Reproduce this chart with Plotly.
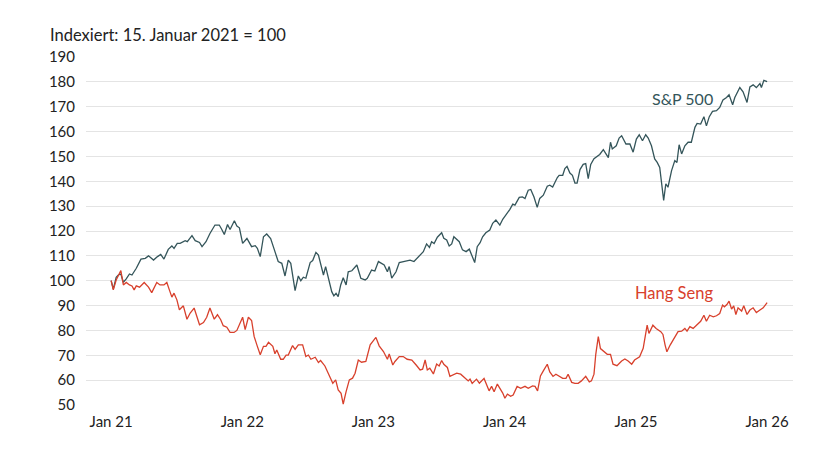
import pandas as pd
import plotly.graph_objects as go

START = "2021-01-15"

# S&P 500: days after 15 Jan 2021, indexed value
sp_day = [0, 6, 14, 20, 27, 34, 42, 51, 58, 70, 83, 95, 104, 118, 129, 138, 147, 159, 169, 175,
          184, 192, 206, 212, 225, 234, 246, 253, 264, 275, 289, 301, 308, 315, 324, 331, 343, 350, 357, 366,
          378, 391, 401, 407, 415, 424, 433, 444, 453, 465, 475, 484, 493, 500, 512, 521, 528, 535, 542, 554,
          561, 570, 577, 591, 597, 605, 614, 620, 626, 632, 639, 646, 654, 660, 670, 684, 695, 707, 713, 725,
          734, 744, 753, 760, 769, 774, 781, 793, 802, 813, 824, 832, 843, 855, 869, 878, 886, 892, 899, 908,
          920, 926, 934, 941, 948, 954, 962, 969, 978, 988, 997, 1004, 1012, 1019, 1027, 1034, 1043, 1054, 1062, 1071,
          1082, 1090, 1101, 1110, 1118, 1124, 1136, 1145, 1152, 1161, 1168, 1177, 1186, 1193, 1203, 1214, 1221, 1229, 1242, 1247,
          1257, 1263, 1269, 1277, 1284, 1291, 1297, 1305, 1314, 1321, 1328, 1335, 1344, 1353, 1360, 1370, 1376, 1384, 1390, 1395,
          1406, 1414, 1421, 1433, 1444, 1453, 1462, 1470, 1479, 1488, 1495, 1504, 1513, 1520, 1527, 1532, 1538, 1544, 1550, 1560,
          1569, 1575, 1581, 1588, 1597, 1606, 1615, 1625, 1631, 1641, 1650, 1657, 1665, 1674, 1685, 1694, 1703, 1713, 1720, 1730,
          1736, 1750, 1759, 1770, 1778, 1787, 1796, 1806, 1810, 1817, 1826]
sp_val = [100, 96.6, 101.4, 102.3, 102.7, 99.4, 100.7, 102.7, 102.3, 105, 108.7, 109, 110, 108.3, 109.7, 110.6, 108.7, 112.6, 114, 113,
          115, 115, 116.1, 115.7, 118.1, 116.1, 115.4, 113.7, 115.7, 119, 122.4, 122.4, 120.6, 118.6, 122.6, 120.6, 124.1, 122, 121.3, 115,
          117, 113.7, 114.1, 113, 109.7, 117.7, 118.8, 117, 113, 107.7, 107, 101.9, 108.3, 107, 96, 101.9, 100, 101.4, 101, 107.3,
          108.1, 111.4, 110.3, 102.3, 105.7, 101, 95.6, 93.9, 94.9, 93.6, 98.3, 101.2, 98.3, 103.6, 104, 106.3, 101, 100.3, 101, 104.3,
          103.9, 107.7, 107, 106.3, 103.6, 105.7, 101, 103.6, 107.3, 107.7, 108.1, 108.3, 107.7, 109.7, 111.7, 114.8, 113.4, 115.7, 115, 117.5,
          119.3, 117.1, 116.4, 114, 114.8, 117.7, 116.4, 115.7, 112.4, 111.7, 112.7, 110.4, 107.3, 113.7, 115.3, 117.7, 119.3, 120.4, 123.1, 124.4,
          122.4, 124.7, 126.8, 128.7, 130.8, 130.4, 133.5, 133.7, 133.1, 136.4, 136.7, 133.7, 129.5, 133.1, 134.4, 138, 138.4, 137.7, 141.5, 142.4,
          142.4, 145.1, 146, 143.3, 142.4, 139.3, 139.3, 144.7, 146.8, 147.1, 141.1, 146.8, 149.1, 150, 150.8, 152.7, 151.3, 149.5, 155.7, 153,
          154.3, 157.4, 158.3, 155, 155, 151.7, 157, 158.7, 156.3, 158.7, 157.4, 154.3, 149, 147.6, 145.6, 140.3, 132.3, 139, 137.6, 144.3,
          148.3, 147.6, 154.7, 151, 154.3, 155.7, 155.7, 161.7, 163.3, 163, 166, 162.3, 166, 168.1, 168.4, 169.7, 172.7, 173.7, 174.8, 170.8,
          173.7, 177.7, 176, 171.7, 178, 178.8, 177.7, 179.3, 177.7, 180.6, 180.1]

# Hang Seng: days after 15 Jan 2021, indexed value
hs_day = [0, 6, 14, 20, 27, 34, 42, 51, 58, 64, 70, 79, 92, 104, 113, 127, 136, 147, 155, 162,
          169, 175, 183, 190, 201, 211, 220, 231, 246, 257, 266, 275, 287, 296, 305, 312, 322, 331, 342, 350,
          359, 366, 373, 382, 391, 398, 407, 415, 424, 431, 438, 450, 456, 461, 472, 479, 487, 493, 505, 512,
          521, 533, 542, 549, 556, 568, 577, 583, 595, 605, 617, 625, 632, 640, 646, 654, 663, 672, 679, 688,
          697, 709, 721, 730, 737, 746, 758, 769, 774, 784, 790, 802, 813, 824, 837, 849, 860, 867, 874, 880,
          887, 897, 906, 913, 920, 926, 936, 943, 952, 962, 973, 985, 994, 999, 1005, 1017, 1025, 1038, 1045, 1052,
          1059, 1066, 1075, 1082, 1090, 1096, 1103, 1112, 1119, 1130, 1140, 1152, 1161, 1173, 1180, 1187, 1195, 1203, 1214, 1221,
          1230, 1238, 1247, 1257, 1266, 1272, 1282, 1291, 1300, 1309, 1321, 1331, 1337, 1344, 1349, 1356, 1362, 1372, 1381, 1390,
          1397, 1408, 1421, 1430, 1439, 1449, 1457, 1471, 1481, 1492, 1497, 1508, 1517, 1530, 1536, 1542, 1547, 1556, 1567, 1578,
          1588, 1597, 1603, 1611, 1620, 1631, 1641, 1650, 1657, 1666, 1676, 1685, 1694, 1702, 1707, 1714, 1720, 1727, 1733, 1739,
          1745, 1755, 1761, 1770, 1778, 1787, 1796, 1806, 1815, 1826]
hs_val = [100, 96.3, 100.3, 102.3, 104.1, 98.3, 99.3, 98.3, 97.9, 96.3, 97.9, 97.4, 99.3, 97.4, 95.2, 99.3, 98.3, 98.3, 99.3, 96.3,
          93.4, 95, 92.3, 88.3, 89.9, 84.5, 87, 89, 82.3, 83.2, 85.3, 89, 84.5, 86.3, 84.3, 81.9, 81.3, 79.2, 79.2, 80,
          83.2, 85.3, 80.3, 85.3, 84, 77.6, 73.6, 70.2, 73.6, 73.6, 75.2, 73.6, 70.6, 72.1, 68.4, 68.4, 70.1, 70.1, 73.9, 72.4,
          74.2, 74.2, 69.5, 70.1, 68.4, 69.2, 67.1, 67.9, 65.7, 62.5, 58.7, 60.1, 56.1, 54.7, 50.4, 55.4, 60.1, 60.8, 62.8, 68.1,
          67.2, 67.5, 74.2, 75.9, 77.2, 73.8, 71.5, 68.4, 70.5, 66.1, 67.5, 69.5, 69.5, 68.4, 68.1, 66.1, 64.1, 64.4, 68.1, 64.1,
          64.8, 62.5, 66.5, 65.7, 67.9, 66.4, 65.1, 61.5, 62, 62.8, 62.4, 60.7, 59.7, 60.4, 58.7, 60.4, 58.8, 60.7, 58, 55.7,
          57.5, 55.3, 58.4, 56.7, 54.8, 52.7, 54.4, 53.5, 54, 57.5, 56.7, 57.5, 56.7, 57.7, 57.5, 55.7, 61.7, 63.7, 66.4, 63.3,
          61.5, 62.4, 61.5, 60.7, 60.7, 62.4, 59.1, 58.7, 58.7, 59.7, 61.5, 59.3, 59.7, 62.4, 70.4, 77.5, 72.7, 71.3, 70.4, 70.4,
          66.4, 65.8, 67.7, 68.5, 67.7, 66.4, 68.1, 69.4, 72.8, 82.1, 78.8, 82.1, 80.8, 79.5, 78.4, 74.1, 71.4, 74.1, 76.8, 79.5,
          79.7, 80.8, 79.7, 81.5, 80.8, 82.4, 83.7, 86.1, 83.7, 86.1, 85.5, 85.9, 86.8, 90.2, 89.5, 90.4, 91.8, 88.6, 89.9, 86.4,
          89.1, 87.8, 89.9, 86.4, 88.2, 89.1, 87.2, 88.2, 89.1, 91.2]

tick_dates = ["2021-01-15", "2022-01-15", "2023-01-15", "2024-01-15", "2025-01-15", "2026-01-15"]
tick_text = ["Jan 21", "Jan 22", "Jan 23", "Jan 24", "Jan 25", "Jan 26"]
y_ticks = list(range(50, 200, 10))

SP_COLOR = "#34555a"
HS_COLOR = "#d8402c"
FONT = "Lato, 'Source Sans Pro', sans-serif"

start = pd.Timestamp(START)
sp_x = start + pd.to_timedelta(sp_day, unit="D")
hs_x = start + pd.to_timedelta(hs_day, unit="D")

fig = go.Figure()
fig.add_trace(go.Scatter(x=sp_x, y=sp_val, mode="lines", name="S&P 500",
                         line=dict(color=SP_COLOR, width=1.3), hoverinfo="x+y"))
fig.add_trace(go.Scatter(x=hs_x, y=hs_val, mode="lines", name="Hang Seng",
                         line=dict(color=HS_COLOR, width=1.3), hoverinfo="x+y"))

fig.add_annotation(x="2025-08-24", y=173.5, text="S&P 500", showarrow=False,
                   xanchor="right", yanchor="middle", font=dict(family=FONT, size=16, color=SP_COLOR))
fig.add_annotation(x="2025-08-24", y=95.1, text="Hang Seng", showarrow=False,
                   xanchor="right", yanchor="middle", font=dict(family=FONT, size=16.5, color=HS_COLOR))
fig.add_annotation(xref="paper", yref="paper", x=-38/707, y=1, yshift=22,
                   text="Indexiert: 15. Januar 2021 = 100", showarrow=False,
                   xanchor="left", yanchor="middle", font=dict(family=FONT, size=16.5, color="#222222"))

fig.update_layout(
    width=840, height=453,
    margin=dict(l=86, r=47, t=57, b=48),
    paper_bgcolor="white", plot_bgcolor="white",
    showlegend=False,
    font=dict(family=FONT, size=15, color="#222222"),
    xaxis=dict(range=["2020-11-06", "2026-03-28"], tickvals=tick_dates, ticktext=tick_text,
               showgrid=False, zeroline=False, showline=False, ticks="",
               ticklabelstandoff=6, tickfont=dict(size=15)),
    yaxis=dict(range=[50, 190], tickvals=y_ticks, showgrid=True, gridcolor="#e4e4e4", gridwidth=1,
               zeroline=False, showline=False, ticks="", ticklabelstandoff=10,
               tickfont=dict(size=15)),
)

fig.write_html("out.html", config={"displayModeBar": False},
               post_script="document.body.style.margin='0';")
